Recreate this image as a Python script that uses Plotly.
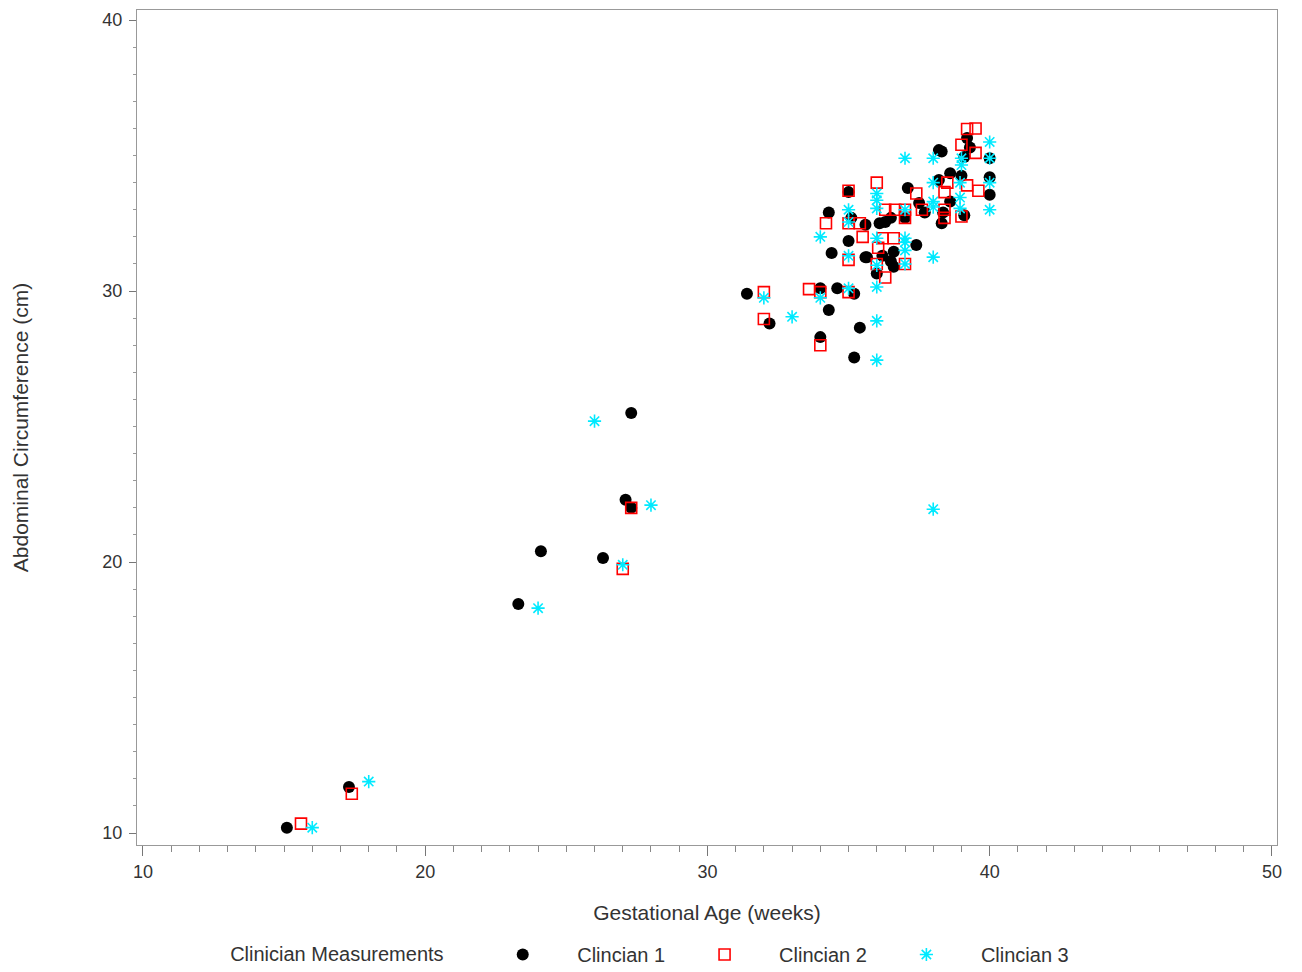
import plotly.graph_objects as go

# Clinician 1 (black filled circles)
c1_age = [15.1, 17.3, 23.3, 24.1, 26.3, 27.1, 27.3, 27.3,
          31.4, 32.2, 34.0, 34.6, 35.2, 34.3, 34.0, 35.4, 35.2,
          34.4, 35.6, 35.0, 34.3, 35.1, 35.6, 35.0,
          39.2, 39.3, 38.2, 38.3, 39.1, 40.0, 38.6, 39.0, 40.0,
          37.1, 37.5, 38.2, 40.0, 38.6, 38.35, 39.1, 38.3,
          37.0, 36.3, 36.5, 36.0, 36.6, 36.5, 37.4, 35.65, 36.6, 36.2, 37.7, 36.1]
c1_ac = [10.2, 11.7, 18.45, 20.4, 20.15, 22.3, 22.0, 25.5,
         29.9, 28.8, 30.1, 30.1, 29.9, 29.3, 28.3, 28.65, 27.55,
         31.4, 31.25, 33.65, 32.9, 32.7, 32.45, 31.85,
         35.65, 35.3, 35.2, 35.15, 34.95, 34.9, 34.35, 34.25, 34.2,
         33.8, 33.25, 34.1, 33.55, 33.3, 32.9, 32.8, 32.5,
         32.7, 32.55, 32.7, 30.65, 30.9, 31.1, 31.7, 31.25, 31.45, 31.3, 32.9, 32.5]

# Clinician 2 (red open squares)
c2_age = [15.6, 17.4, 27.0, 27.3,
          32.0, 32.0, 33.6, 34.0, 35.0, 34.0,
          35.0, 34.2, 35.0, 35.4, 35.5, 35.0,
          39.2, 39.5, 39.0, 39.5, 36.0, 37.4, 37.6, 38.5, 38.4, 39.2, 39.6,
          38.4, 39.0, 38.4, 36.3, 36.65, 37.0, 37.0, 36.2, 36.6, 36.3, 36.0, 37.0, 36.05]
c2_ac = [10.35, 11.45, 19.75, 22.0,
         29.96, 28.97, 30.07, 29.96, 29.96, 28.0,
         33.7, 32.5, 32.5, 32.5, 32.0, 31.15,
         35.98, 36.0, 35.4, 35.1, 34.0, 33.6, 33.0, 34.0, 33.65, 33.9, 33.7,
         33.0, 32.75, 32.7, 33.0, 33.0, 33.0, 32.7, 31.95, 31.95, 30.5, 31.0, 31.0, 31.6]

# Clinician 3 (cyan asterisks)
c3_age = [16.0, 18.0, 24.0, 27.0, 28.0, 26.0, 38.0,
          32.0, 33.0, 34.0, 35.0, 34.0, 35.0, 35.0, 35.0,
          40.0, 37.0, 38.0, 39.0, 39.0, 40.0, 36.0, 36.0, 36.0, 38.0, 38.95, 40.0, 40.0,
          38.0, 38.0, 38.95, 38.95, 37.0, 36.0, 37.0, 38.0, 36.0, 36.0, 36.0, 36.0, 37.0, 37.0, 37.0]
c3_ac = [10.2, 11.9, 18.3, 19.9, 22.1, 25.2, 21.95,
         29.75, 29.05, 29.75, 30.1, 32.0, 33.0, 32.55, 31.3,
         35.5, 34.9, 34.9, 34.9, 34.65, 34.9, 33.6, 33.35, 33.05, 34.0, 34.0, 34.0, 33.0,
         33.3, 33.1, 33.45, 33.05, 33.0, 31.95, 31.95, 31.25, 30.15, 28.9, 27.45, 30.95, 31.0, 31.5, 31.8]

x_ticks = [10, 20, 30, 40, 50]
y_ticks = [10, 20, 30, 40]

FONT = "Liberation Sans, Arial, sans-serif"
TXT = "#333333"

fig = go.Figure()
fig.add_trace(go.Scatter(
    x=c1_age, y=c1_ac, mode="markers", name="Clincian 1",
    marker=dict(symbol="circle", size=12, color="black", line=dict(width=0))))
fig.add_trace(go.Scatter(
    x=c2_age, y=c2_ac, mode="markers", name="Clincian 2",
    marker=dict(symbol="square-open", size=11, color="#ff0000", line=dict(width=1.6, color="#ff0000"))))
fig.add_trace(go.Scatter(
    x=c3_age, y=c3_ac, mode="markers", name="Clincian 3",
    marker=dict(symbol="asterisk-open", size=11, color="#00eaff", line=dict(width=1.6, color="#00eaff"))))

fig.update_layout(
    width=1302, height=972,
    margin=dict(l=137, r=25, t=10, b=127, autoexpand=False),
    plot_bgcolor="white", paper_bgcolor="white",
    font=dict(family=FONT, size=18, color=TXT),
    showlegend=True,
    legend=dict(
        orientation="h", x=0.451, xanchor="center", y=-0.1545, yanchor="bottom",
        title=dict(text="Clinician Measurements   ", side="left", font=dict(size=20, color=TXT)),
        font=dict(size=20, color=TXT), itemwidth=99,
    ),
    xaxis=dict(
        range=[9.79, 50.18], tickmode="array", tickvals=x_ticks,
        ticks="outside", ticklen=10, tickcolor="#777", tickwidth=1,
        minor=dict(dtick=1, ticks="outside", ticklen=6, tickcolor="#888", showgrid=False),
        showgrid=False, zeroline=False, automargin=False,
        showline=True, linecolor="#999", linewidth=1, mirror=True,
        tickfont=dict(size=18, color=TXT), ticklabelstandoff=0,
        title=dict(text="Gestational Age (weeks)", font=dict(size=21, color=TXT), standoff=24),
    ),
    yaxis=dict(
        range=[9.56, 40.37], tickmode="array", tickvals=y_ticks,
        ticks="outside", ticklen=7, tickcolor="#777", tickwidth=1,
        minor=dict(dtick=1, ticks="outside", ticklen=3, tickcolor="#999", showgrid=False),
        showgrid=False, zeroline=False, automargin=False,
        showline=True, linecolor="#999", linewidth=1, mirror=True,
        tickfont=dict(size=18, color=TXT), ticklabelstandoff=3,
        title=dict(text="Abdominal Circumference (cm)", font=dict(size=21, color=TXT), standoff=68),
    ),
)

fig.write_html("out.html", config={"displayModeBar": False},
               post_script="document.body.style.margin='0px';document.body.style.overflow='hidden';")
